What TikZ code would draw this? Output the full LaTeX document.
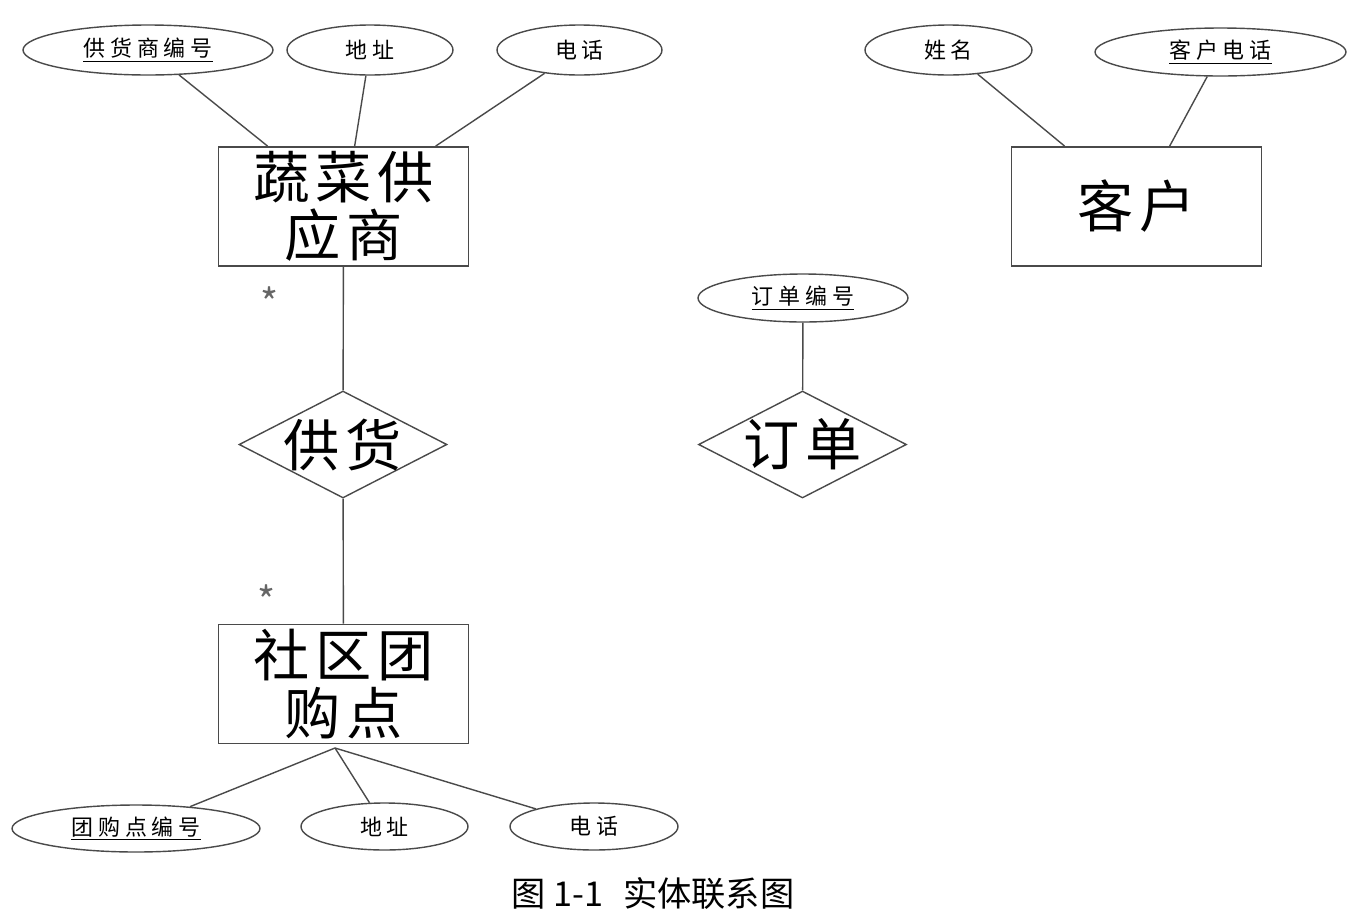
\documentclass[tikz,border=0pt]{standalone}
\usepackage{fontspec}
\setmainfont{Noto Sans CJK SC}
\newfontfamily\cjksmall[LetterSpace=22]{Noto Sans CJK SC}
\newfontfamily\cjkbig[LetterSpace=10]{Noto Sans CJK SC}
\usetikzlibrary{shapes.geometric,calc}
\definecolor{edgegray}{HTML}{4A4A4A}
\tikzset{
  entity/.style={draw=edgegray, line width=1pt, minimum width=5cm, minimum height=2.38cm,
    inner sep=0pt, align=center, font=\cjkbig\fontsize{32}{33}\selectfont},
  attr/.style={ellipse, draw=edgegray, line width=0.8pt, inner sep=0pt,
    minimum height=1cm, font=\cjksmall\fontsize{12.5}{14}\selectfont},
  relation/.style={diamond, draw=edgegray, line width=0.8pt, inner sep=0pt,
    minimum width=4.16cm, minimum height=2.14cm},
  reltext/.style={font=\cjkbig\fontsize{32}{33}\selectfont},
  conn/.style={draw=edgegray, line width=0.8pt},
  mult/.style={text=black!60, font=\fontsize{22}{22}\selectfont}
}
\begin{document}
\begin{tikzpicture}[x=0.02cm, y=-0.02cm]
    \useasboundingbox (0,0) rectangle (1360,917);
    % Entites
    \node[entity] (sup) at (343.5,206.5) {蔬菜供\\应商};
    \node[entity] (cust) at (1136.5,206.5) {客户};
    \node[entity] (spot) at (343.5,684) {社区团\\购点};
    % Relations
    \node[relation] (supply) at (343,444.5) {};
    \node[reltext] (supplytxt) at (supply) {供货};
    \node[relation] (order) at (802.5,444.5) {};
    \node[reltext] (ordertxt) at (order) {订单};
    % Attributs du fournisseur
    \node[attr, minimum width=5cm] (supid) at (148,50) {\underline{供货商编号}};
    \node[attr, minimum width=3.32cm] (supaddr) at (370,50) {地址};
    \node[attr, minimum width=3.3cm] (suptel) at (579.5,50) {电话};
    % Attributs du client
    \node[attr, minimum width=3.34cm] (custname) at (948.5,50) {姓名};
    \node[attr, minimum width=5.02cm, minimum height=0.96cm] (custtel) at (1220.5,52) {\underline{客户电话}};
    % Attribut de la commande
    \node[attr, minimum width=4.2cm, minimum height=0.96cm] (orderid) at (803,298) {\underline{订单编号}};
    % Attributs du point de vente
    \node[attr, minimum width=4.96cm, minimum height=0.94cm] (spotid) at (136,828.5) {\underline{团购点编号}};
    \node[attr, minimum width=3.34cm, minimum height=0.94cm] (spotaddr) at (384.5,826.5) {地址};
    \node[attr, minimum width=3.36cm, minimum height=0.94cm] (spottel) at (594,826.5) {电话};
    % Liens
    \draw[conn] ($(sup.north west)+(50,0)$) -- (supid);
    \draw[conn] ($(sup.north west)+(137,0)$) -- (supaddr);
    \draw[conn] ($(sup.north west)+(218,0)$) -- (suptel);
    \draw[conn] ($(cust.north west)+(54,0)$) -- (custname);
    \draw[conn] ($(cust.north west)+(159,0)$) -- (custtel);
    \draw[conn] (sup) -- (supply);
    \draw[conn] (supply) -- (spot);
    \draw[conn] (orderid) -- (order);
    \coordinate (hub) at (335,748);
    \draw[conn] (hub) -- (spotid);
    \draw[conn] (hub) -- (spotaddr);
    \draw[conn] (hub) -- (spottel);
    % Cardinalites
    \node[mult] (m1) at (270,302) {*};
    \node[mult] (m2) at (267,600) {*};
    % Legende
    \node[font=\fontsize{19.5}{22}\selectfont] (caption) at (653,893) {图 1-1\hspace{0.35em} 实体联系图};
\end{tikzpicture}
\end{document}
